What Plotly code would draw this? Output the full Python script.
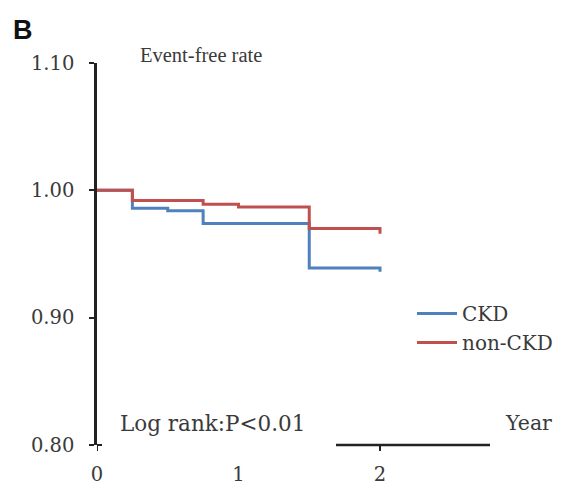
import plotly.graph_objects as go

# Data
ckd_years = [0, 0.25, 0.5, 0.75, 1.5, 2.0]
ckd_rate = [1.000, 0.986, 0.984, 0.974, 0.939, 0.936]
nonckd_years = [0, 0.25, 0.75, 1.0, 1.5, 2.0]
nonckd_rate = [1.000, 0.992, 0.989, 0.987, 0.970, 0.966]
y_ticks = [0.80, 0.90, 1.00, 1.10]
y_labels = ["0.80", "0.90", "1.00", "1.10"]
x_ticks = [0, 1, 2]
x_labels = ["0", "1", "2"]

OFF = 8  # page body margin
W, H = 561 - OFF, 487 - OFF
L, T = 97 - OFF, 63 - OFF
pw = 443
ph = 382
R = W - L - pw
B = H - T - ph

def px(x):  # screen pixel -> paper
    return (x - OFF - L) / pw

def py(y):
    return 1 - (y - OFF - T) / ph

TIMES = "Liberation Serif, Times New Roman, serif"
WIDE = "DejaVu Serif, serif"
TXT = "#3a3a3a"
BLUE = "#4F81BD"
RED = "#C0504D"

fig = go.Figure()
fig.add_trace(go.Scatter(x=ckd_years, y=ckd_rate, mode="lines", name="CKD",
                         line=dict(color=BLUE, width=3, shape="hv")))
fig.add_trace(go.Scatter(x=nonckd_years, y=nonckd_rate, mode="lines", name="non-CKD",
                         line=dict(color=RED, width=3, shape="hv")))

xmax = pw / 141.5
fig.update_xaxes(range=[0, xmax], showgrid=False, zeroline=False, showline=False,
                 automargin=False, tickvals=x_ticks, ticktext=x_labels, ticks="",
                 ticklabelstandoff=15, tickfont=dict(family=WIDE, size=19.5, color=TXT))
fig.update_yaxes(range=[0.80, 1.10], showgrid=False, zeroline=False, showline=True,
                 automargin=False,
                 linecolor="#222", linewidth=2.5, ticks="outside", ticklen=5, tickwidth=2,
                 tickcolor="#222", tickvals=y_ticks, ticktext=y_labels,
                 ticklabelstandoff=11, tickfont=dict(family=WIDE, size=19.5, color=TXT))

# partial x axis segment and ticks
fig.add_shape(type="line", xref="paper", yref="paper", x0=px(336), x1=px(490), y0=0, y1=0,
              line=dict(color="#222", width=2.5))
for xv in [0, 2]:
    fig.add_shape(type="line", xref="x", yref="paper", x0=xv, x1=xv, y0=0, y1=py(451),
                  line=dict(color="#222", width=2))
fig.add_shape(type="line", xref="paper", yref="paper", x0=0, x1=px(102), y0=0, y1=0,
              line=dict(color="#222", width=2))

annots = [
    dict(text="<b>B</b>", x=px(11), y=py(30), font=dict(family="Liberation Sans, Arial", size=27, color="#111"),
         xanchor="left"),
    dict(text="Event-free rate", x=px(138), y=py(55), font=dict(family=TIMES, size=20.5, color=TXT),
         xanchor="left"),
    dict(text="Log rank:P<0.01", x=px(118), y=py(423), font=dict(family=WIDE, size=21.5, color=TXT),
         xanchor="left"),
    dict(text="Year", x=px(503), y=py(423), font=dict(family=WIDE, size=20.5, color=TXT),
         xanchor="left"),
]
for a in annots:
    fig.add_annotation(xref="paper", yref="paper", showarrow=False, yanchor="middle", **a)

fig.update_layout(
    width=W, height=H, margin=dict(l=L, r=R, t=T, b=B, autoexpand=False),
    plot_bgcolor="white", paper_bgcolor="white",
    showlegend=True,
    legend=dict(x=px(412), y=py(294), xanchor="left", yanchor="top",
                font=dict(family=WIDE, size=20, color=TXT),
                bgcolor="rgba(0,0,0,0)", tracegroupgap=0, itemwidth=40),
)

fig.write_html("out.html")
